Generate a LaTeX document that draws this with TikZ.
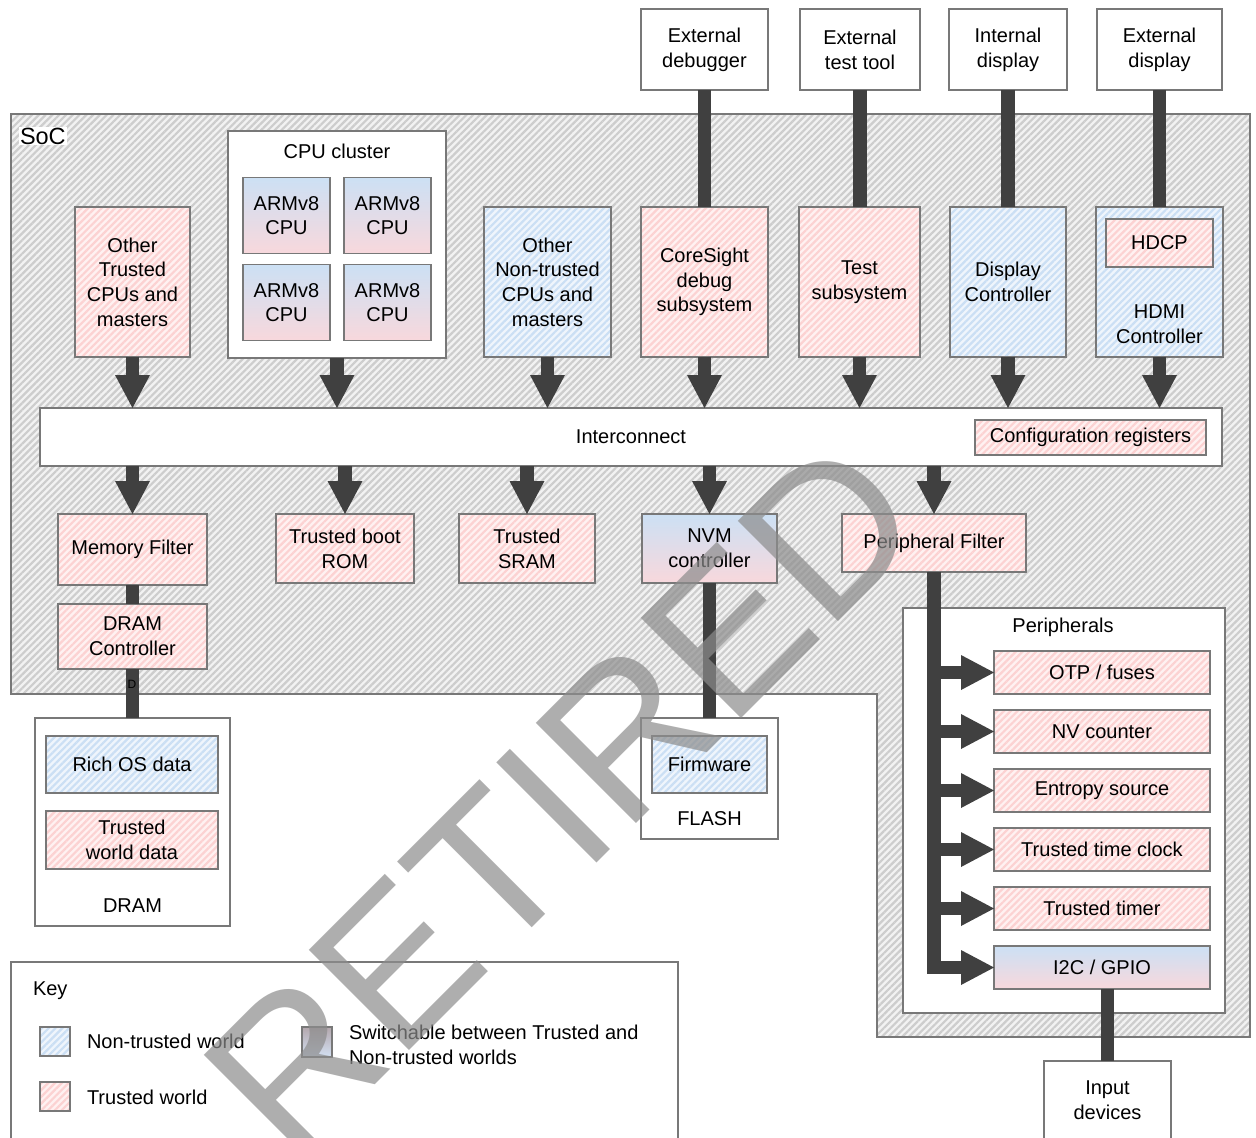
\documentclass[tikz,border=0pt]{standalone}
\usepackage{fontspec}
\setmainfont{Liberation Sans}
\usetikzlibrary{arrows.meta,patterns.meta,calc}

\definecolor{bar}{HTML}{404040}
\definecolor{edge}{HTML}{787878}
\definecolor{socbase}{HTML}{F2F2F2}
\definecolor{socline}{HTML}{CDCDCD}
\definecolor{trbase}{HTML}{FFF1F1}
\definecolor{trline}{HTML}{FCD2D2}
\definecolor{ntbase}{HTML}{EFF5FC}
\definecolor{ntline}{HTML}{CBDFF4}
\definecolor{gtop}{HTML}{CCE0F4}
\definecolor{gbot}{HTML}{F8D8DC}
\definecolor{swtop}{HTML}{B4A7AD}
\definecolor{swbot}{HTML}{D3E1F3}
\definecolor{wm}{HTML}{8C8C8C}

\tikzset{
  every node/.style={font=\fontsize{20}{24.7}\selectfont, align=center,
                     inner sep=0pt, outer sep=0pt},
  hatch/.style={pattern={Lines[angle=45,distance=4.8pt,line width=2.2pt]}},
  box/.style={draw=edge, line width=1.2pt, rectangle},
  plain/.style={box, fill=white},
  trusted/.style={box, preaction={fill=trbase}, hatch, pattern color=trline},
  untrusted/.style={box, preaction={fill=ntbase}, hatch, pattern color=ntline},
  switchable/.style={box, top color=gtop, bottom color=gbot},
  bus/.style={draw=bar, line width=13.5pt, line join=miter},
  busarrow/.style={bus, -{Triangle[width=35pt,length=33pt,line width=0pt]}},
}

\begin{document}
\begin{tikzpicture}[x=1pt, y=-1pt]
\useasboundingbox (0,0) rectangle (1256,1138);
\clip (0,0) rectangle (1256,1138);

% System on chip outline
\path[draw=edge, line width=1.2pt, preaction={fill=socbase}, hatch, pattern color=socline]
  (11,114) -- (1250,114) -- (1250,1037) -- (877,1037) -- (877,694) -- (11,694) -- cycle;
\node[fill=white, inner sep=1pt, anchor=west, font=\fontsize{23.5}{26}\selectfont] (soclabel) at (19,136) {SoC};

% External equipment
\node[plain, minimum width=127, minimum height=81] (edbg)  at (704.5,49.5) {External\\debugger};
\node[plain, minimum width=120, minimum height=81] (etest) at (860,49.5)   {External\\test tool};
\node[plain, minimum width=118, minimum height=81] (idisp) at (1008,49.5)  {Internal\\display};
\node[plain, minimum width=125, minimum height=81] (edisp) at (1159.5,49.5){External\\display};

% Bus masters
\node[trusted, minimum width=115, minimum height=150] (oth) at (132.5,282) {Other\\Trusted\\CPUs and\\masters};
\node[plain, minimum width=218, minimum height=227] (cluster) at (337,244.5) {};
\node (clustertitle) at (337,151) {CPU cluster};
\node[switchable, minimum width=87, minimum height=76] (cpua) at (286.5,215.5) {ARMv8\\CPU};
\node[switchable, minimum width=87, minimum height=76] (cpub) at (387.5,215.5) {ARMv8\\CPU};
\node[switchable, minimum width=87, minimum height=76] (cpuc) at (286.5,302.5) {ARMv8\\CPU};
\node[switchable, minimum width=87, minimum height=76] (cpud) at (387.5,302.5) {ARMv8\\CPU};
\node[untrusted, minimum width=127, minimum height=150] (nth) at (547.5,282) {Other\\Non-trusted\\CPUs and\\masters};
\node[trusted, minimum width=127, minimum height=150] (cs) at (704.5,282) {CoreSight\\debug\\subsystem};
\node[trusted, minimum width=121, minimum height=150] (test) at (859.5,282) {Test\\subsystem};
\node[untrusted, minimum width=116, minimum height=150] (dc) at (1008,282) {Display\\Controller};
\node[untrusted, minimum width=127, minimum height=150] (hdmi) at (1159.5,282) {};
\node[trusted, minimum width=107, minimum height=48] (hdcp) at (1159.5,243) {HDCP};
\node (hdmitext) at (1159.5,324.5) {HDMI\\Controller};

% Interconnect
\node[plain, minimum width=1182, minimum height=58] (ic) at (631,437) {Interconnect};
\node[trusted, minimum width=231, minimum height=35] (cfg) at (1090.5,437.5) {Configuration registers};

% Slaves
\node[trusted, minimum width=149, minimum height=71] (mf)   at (132.5,549.5) {Memory Filter};
\node[trusted, minimum width=138, minimum height=69] (rom)  at (345,548.5)   {Trusted boot\\ROM};
\node[trusted, minimum width=136, minimum height=69] (sram) at (527,548.5)   {Trusted\\SRAM};
\node[switchable, minimum width=135, minimum height=69] (nvm) at (709.5,548.5) {NVM\\controller};
\node[trusted, minimum width=184, minimum height=58] (pf)   at (934,543)     {Peripheral Filter};
\node[trusted, minimum width=149, minimum height=65] (dramc) at (132.5,636.5) {DRAM\\Controller};

% DRAM
\node[plain, minimum width=195, minimum height=208] (dram) at (132.5,822) {};
\node[untrusted, minimum width=172, minimum height=57] (rich) at (132,764.5) {Rich OS data};
\node[trusted, minimum width=172, minimum height=58] (twd) at (132,840) {Trusted\\world data};
\node (dramtext) at (132.5,906) {DRAM};

% Flash
\node[plain, minimum width=137, minimum height=121] (flash) at (709.5,778.5) {};
\node[untrusted, minimum width=115, minimum height=57] (fw) at (709.5,764.5) {Firmware};
\node (flashtext) at (709.5,819) {FLASH};

% Peripherals
\node[plain, minimum width=322, minimum height=405] (per) at (1064,810.5) {};
\node (pertext) at (1063,627) {Peripherals};
\node[trusted, minimum width=216, minimum height=43] (otp)  at (1102,672.5) {OTP / fuses};
\node[trusted, minimum width=216, minimum height=43] (nvc)  at (1102,731.5) {NV counter};
\node[trusted, minimum width=216, minimum height=43] (ent)  at (1102,790.5) {Entropy source};
\node[trusted, minimum width=216, minimum height=43] (ttc)  at (1102,849.5) {Trusted time clock};
\node[trusted, minimum width=216, minimum height=43] (ttm)  at (1102,908.5) {Trusted timer};
\node[switchable, minimum width=216, minimum height=43] (i2c) at (1102,967.5) {I2C / GPIO};

% Input devices
\node[plain, minimum width=127, minimum height=100] (inp) at (1107.5,1111) {};
\node (inptext) at (1107.5,1100) {Input\\devices};

% Key
\node[plain, minimum width=667, minimum height=200, anchor=north west] (key) at (11,962) {};
\node[anchor=west] (keytitle) at (33,991) {Key};
\node[untrusted, minimum width=30, minimum height=29] (keynt) at (55,1041.5) {};
\node[anchor=west] (keynttext) at (87,1041) {Non-trusted world};
\node[trusted, minimum width=30, minimum height=29] (keytr) at (55,1096.5) {};
\node[anchor=west] (keytrtext) at (87,1097) {Trusted world};
\node[box, top color=swtop, bottom color=swbot, minimum width=30, minimum height=30] (keysw) at (317,1042) {};
\node[anchor=west, align=left] (keyswtext) at (349,1044.5) {Switchable between Trusted and\\Non-trusted worlds};

% Links from external equipment
\draw[bus] (edbg.south) -- (edbg.south |- cs.north);
\draw[bus] (etest.south) -- (etest.south |- test.north);
\draw[bus] (idisp.south) -- (idisp.south |- dc.north);
\draw[bus] (edisp.south) -- (edisp.south |- hdmi.north);

% Masters into the interconnect
\foreach \m in {oth, cluster, nth, cs, test, dc, hdmi}
  \draw[busarrow] (\m.south) -- (\m.south |- ic.north);

% Interconnect to slaves
\foreach \s in {mf, rom, sram, nvm, pf}
  \draw[busarrow] (ic.south -| \s.north) -- (\s.north);

% Memory path
\draw[bus] (mf.south) -- (dramc.north);
\draw[bus] (dramc.south) -- (dram.north);
\node[font=\fontsize{12}{12}\selectfont] (dlabel) at (132,684) {D};
\draw[bus] (nvm.south) -- (flash.north);

% Peripheral bus
\draw[busarrow] (pf.south) |- (i2c.west);
\foreach \p in {otp, nvc, ent, ttc, ttm}
  \draw[busarrow] (pf.south |- \p.west) -- (\p.west);
\draw[bus] (i2c.south -| inp.north) -- (inp.north);

% Watermark
\node[text=wm, text opacity=0.7, font=\fontsize{206}{206}\selectfont, rotate=45] (wmark) at (562,798) {RETIRED};
\end{tikzpicture}
\end{document}
